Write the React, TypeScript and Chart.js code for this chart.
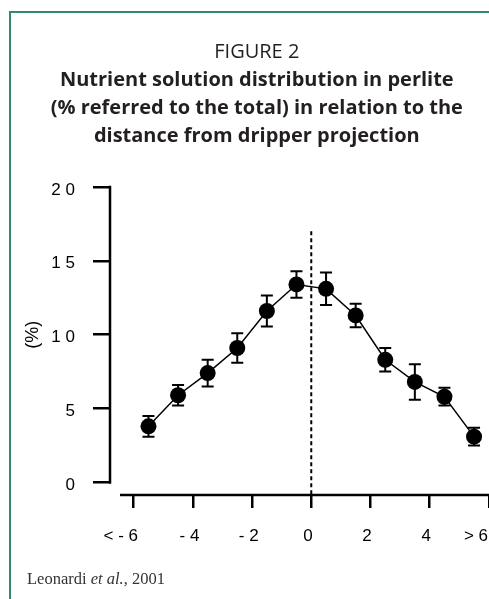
import React, { useEffect, useRef } from "react";
import { Chart, registerables } from "chart.js";

Chart.register(...registerables);

// ---- data ----
const distances = [-5.5, -4.5, -3.5, -2.5, -1.5, -0.5, 0.5, 1.5, 2.5, 3.5, 4.5, 5.5];
const solutionPct = [3.8, 5.9, 7.4, 9.1, 11.6, 13.4, 13.1, 11.3, 8.3, 6.8, 5.8, 3.1];
const solutionErr = [0.7, 0.7, 0.9, 1.0, 1.05, 0.9, 1.1, 0.8, 0.8, 1.2, 0.6, 0.6];
const xTickValues = [-6, -4, -2, 0, 2, 4, 6];
const xTickLabels = ["< - 6", "- 4", "- 2", "0", "2", "4", "> 6"];
const yTickValues = [0, 5, 10, 15, 20];
const yTickLabels = ["0", "5", "1 0", "1 5", "2 0"];
const dripperX = 0;
const dripperTop = 17;
const figureLabel = "FIGURE 2";
const titleLines = [
  "Nutrient solution distribution in perlite",
  "(% referred to the total) in relation to the",
  "distance from dripper projection",
];
const yAxisLabel = "(%)";

const AXIS_FONT = "'Liberation Sans', Arial, sans-serif";
const TITLE_FONT = "'Open Sans', 'Noto Sans', sans-serif";

const overlayPlugin = {
  id: "overlay",
  beforeDatasetsDraw(chart: any) {
    const { ctx } = chart;
    const xs = chart.scales.x;
    const ys = chart.scales.y;
    // dashed dripper line
    ctx.save();
    ctx.strokeStyle = "#000";
    ctx.lineWidth = 2;
    ctx.setLineDash([4, 3]);
    const dx = xs.getPixelForValue(dripperX);
    ctx.beginPath();
    ctx.moveTo(dx, ys.getPixelForValue(dripperTop));
    ctx.lineTo(dx, chart.chartArea.bottom);
    ctx.stroke();
    ctx.restore();
    // error bars
    ctx.save();
    ctx.strokeStyle = "#000";
    ctx.lineWidth = 2;
    distances.forEach((d, i) => {
      const px = xs.getPixelForValue(d);
      const top = ys.getPixelForValue(solutionPct[i] + solutionErr[i]);
      const bot = ys.getPixelForValue(solutionPct[i] - solutionErr[i]);
      ctx.beginPath();
      ctx.moveTo(px, top);
      ctx.lineTo(px, bot);
      ctx.moveTo(px - 6, top);
      ctx.lineTo(px + 6, top);
      ctx.moveTo(px - 6, bot);
      ctx.lineTo(px + 6, bot);
      ctx.stroke();
    });
    ctx.restore();
  },
  afterDraw(chart: any) {
    const { ctx, chartArea } = chart;
    const ys = chart.scales.y;
    ctx.save();
    ctx.strokeStyle = "#000";
    ctx.lineWidth = 2.5;
    // y axis line (from 0 to 20 only)
    ctx.beginPath();
    ctx.moveTo(chartArea.left, ys.getPixelForValue(yTickValues[yTickValues.length - 1]) - 1.25);
    ctx.lineTo(chartArea.left, ys.getPixelForValue(yTickValues[0]) + 1.25);
    ctx.stroke();
    // x axis line (offset, starting right of y axis)
    ctx.beginPath();
    ctx.moveTo(chartArea.left + 10, chartArea.bottom);
    ctx.lineTo(chartArea.right, chartArea.bottom);
    ctx.stroke();
    // y axis title
    ctx.fillStyle = "#000";
    ctx.font = `18px ${AXIS_FONT}`;
    ctx.textAlign = "center";
    ctx.textBaseline = "middle";
    ctx.translate(33, ys.getPixelForValue(10));
    ctx.rotate(-Math.PI / 2);
    ctx.fillText(yAxisLabel, 0, 0);
    ctx.restore();
  },
};

export default function App() {
  const ref = useRef<HTMLCanvasElement | null>(null);

  useEffect(() => {
    if (!ref.current) return;
    Chart.defaults.font.family = AXIS_FONT;
    const chart = new Chart(ref.current, {
      type: "line",
      data: {
        datasets: [
          {
            data: distances.map((d, i) => ({ x: d, y: solutionPct[i] })),
            borderColor: "#000",
            borderWidth: 1.5,
            backgroundColor: "#000",
            pointRadius: 8,
            pointBorderWidth: 0,
            pointBackgroundColor: "#000",
            tension: 0,
            clip: false as any,
          },
        ],
      },
      options: {
        responsive: false,
        animation: false,
        devicePixelRatio: 1,
        events: [],
        layout: { padding: { left: 7, right: 33.4, top: 0, bottom: 0 } },
        plugins: {
          legend: { display: false },
          tooltip: { enabled: false },
          title: {
            display: true,
            text: figureLabel,
            color: "#231f20",
            font: { family: TITLE_FONT, size: 20, weight: "normal", lineHeight: "28px" as any },
            padding: { top: 38, bottom: 0 },
          },
          subtitle: {
            display: true,
            text: titleLines,
            color: "#231f20",
            font: { family: TITLE_FONT, size: 20, weight: "bold", lineHeight: "28.3px" as any },
            padding: { top: 0, bottom: 36 },
          },
        },
        scales: {
          x: {
            type: "linear",
            min: -6.8,
            max: 6.6,
            afterBuildTicks: (s: any) => {
              s.ticks = xTickValues.map((v) => ({ value: v }));
            },
            afterFit: (s: any) => {
              s.height = 104;
            },
            border: { display: false },
            grid: {
              display: true,
              drawOnChartArea: false,
              drawTicks: true,
              tickLength: 13,
              lineWidth: 2.5,
              color: "#000",
            },
            ticks: {
              autoSkip: false,
              maxRotation: 0,
              color: "#000",
              font: { size: 17, family: AXIS_FONT },
              padding: 18,
              labelOffset: -3.4,
              callback: (_v: any, i: number) =>
                /[<>]/.test(xTickLabels[i]) ? xTickLabels[i] + "    " : xTickLabels[i],
            },
          },
          y: {
            type: "linear",
            min: -0.85,
            max: 20,
            afterBuildTicks: (s: any) => {
              s.ticks = yTickValues.map((v) => ({ value: v }));
            },
            afterFit: (s: any) => {
              s.width = 103;
            },
            border: { display: false },
            grid: {
              display: true,
              drawOnChartArea: false,
              drawTicks: true,
              tickLength: 17,
              lineWidth: 2.5,
              color: "#000",
            },
            ticks: {
              color: "#000",
              font: { size: 17, family: AXIS_FONT },
              padding: 18,
              labelOffset: 3,
              callback: (_v: any, i: number) => yTickLabels[i],
            },
          },
        },
      },
      plugins: [overlayPlugin],
    });
    return () => chart.destroy();
  }, []);

  return (
    <div
      style={{
        position: "absolute",
        left: 0,
        top: 0,
        width: 489,
        height: 599,
        overflow: "hidden",
        background: "#fff",
      }}
    >
      <div
        style={{
          position: "absolute",
          left: 9,
          top: 11,
          width: 700,
          height: 800,
          borderLeft: "2px solid #2e8b6f",
          borderTop: "2px solid #2e8b6f",
        }}
      />
      <canvas
        ref={ref}
        width={540}
        height={599}
        style={{ position: "absolute", left: 0, top: 0, width: 540, height: 599 }}
      />
      <div
        style={{
          position: "absolute",
          left: 27,
          top: 569,
          fontFamily: "'Liberation Serif', 'Times New Roman', serif",
          fontSize: 16.5,
          lineHeight: "20px",
          color: "#333",
          whiteSpace: "nowrap",
        }}
      >
        Leonardi <i>et al.</i>, 2001
      </div>
    </div>
  );
}
